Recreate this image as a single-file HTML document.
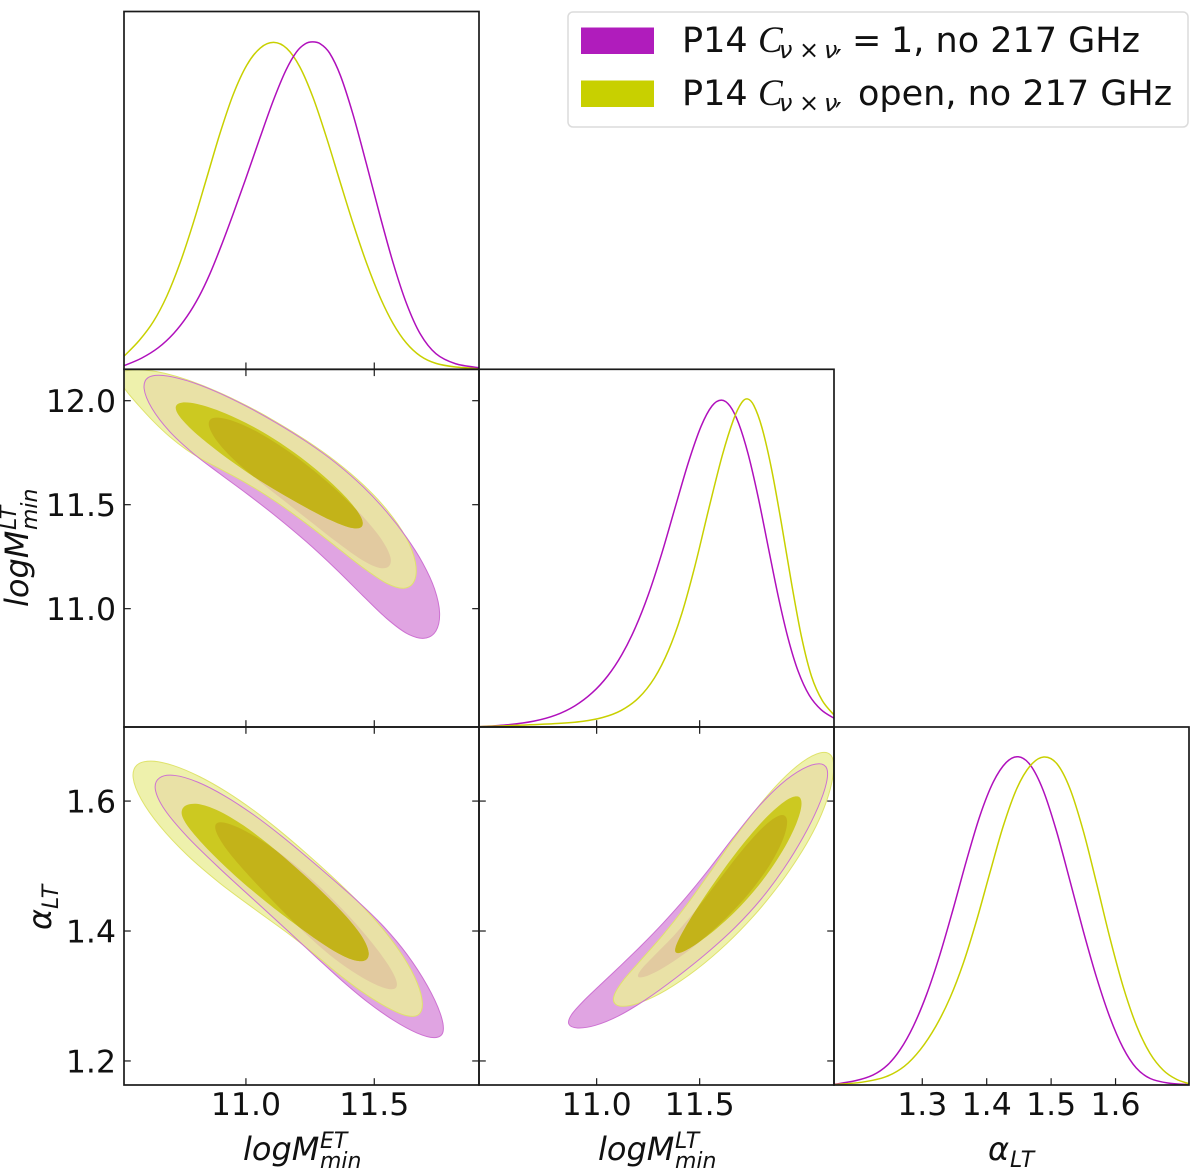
<!DOCTYPE html>
<html lang="en">
<head>
<meta charset="utf-8">
<title>Triangle plot</title>
<style>
html,body{margin:0;padding:0;background:#fff;}
svg{display:block;}
text{font-family:"DejaVu Sans","Liberation Sans",sans-serif;fill:#111;}
.it{font-style:italic;}
</style>
</head>
<body>
<svg id="chart" xmlns="http://www.w3.org/2000/svg" width="1200" height="1169" viewBox="0 0 1200 1169">
  <rect x="0" y="0" width="1200" height="1169" fill="#fff"/>
  <defs id="defs"></defs>
  <g id="marks"></g>
  <g id="frames"></g>
  <g id="ticklabels"></g>

  <g>
    <text class="it" x="243" y="1160" font-size="32">logM</text>
    <text class="it" x="320" y="1148" font-size="22">ET</text>
    <text class="it" x="320" y="1168" font-size="22">min</text>
  </g>
  <g>
    <text class="it" x="598" y="1160" font-size="32">logM</text>
    <text class="it" x="675" y="1148" font-size="22">LT</text>
    <text class="it" x="675" y="1168" font-size="22">min</text>
  </g>
  <g>
    <text class="it" x="988" y="1160" font-size="32">α</text>
    <text class="it" x="1010" y="1167" font-size="22">LT</text>
  </g>
  <g transform="translate(28 607) rotate(-90)">
    <text class="it" x="0" y="0" font-size="32">logM</text>
    <text class="it" x="77" y="-12" font-size="22">LT</text>
    <text class="it" x="77" y="9" font-size="22">min</text>
  </g>
  <g transform="translate(51 930) rotate(-90)">
    <text class="it" x="0" y="0" font-size="32">α</text>
    <text class="it" x="21" y="7" font-size="22">LT</text>
  </g>

  <g>
    <rect x="568" y="12" width="620" height="115" rx="5" ry="5" fill="#fff" stroke="#dcdcdc" stroke-width="1.5"/>
    <g>
      <rect x="581" y="27.5" width="73" height="26.5" fill="#b01cbc"/>
      <text x="682" y="52" font-size="35">P14</text>
      <text x="758" y="52" font-size="37" style="font-family:'Liberation Serif',serif;font-style:italic">C</text>
      <text class="it" x="779" y="58" font-size="24">ν</text>
      <text x="799" y="58" font-size="24">×</text>
      <text class="it" x="824" y="58" font-size="24">ν</text>
      <text x="835" y="71" font-size="30">′</text>
      <text x="852" y="52" font-size="35">=</text>
      <text x="891" y="52" font-size="35">1, no 217 GHz</text>
    </g>
    <g>
      <rect x="581" y="80.5" width="73" height="26.5" fill="#c8d000"/>
      <text x="682" y="105" font-size="35">P14</text>
      <text x="758" y="105" font-size="37" style="font-family:'Liberation Serif',serif;font-style:italic">C</text>
      <text class="it" x="779" y="111" font-size="24">ν</text>
      <text x="799" y="111" font-size="24">×</text>
      <text class="it" x="824" y="111" font-size="24">ν</text>
      <text x="835" y="124" font-size="30">′</text>
      <text x="858" y="105" font-size="35">open, no 217 GHz</text>
    </g>
  </g>
</svg>

<script>
// ---- axis limits and ticks ----
const etLimits = [10.525, 11.908];
const ltLimits = [10.431, 12.151];
const alphaLimits = [1.163, 1.714];
const densityLimits = [0, 1.097];
const etTicks = [11.0, 11.5];
const etTickLabels = ['11.0', '11.5'];
const ltTicks = [11.0, 11.5];
const ltTickLabels = ['11.0', '11.5'];
const ltYTicks = [11.0, 11.5, 12.0];
const ltYTickLabels = ['11.0', '11.5', '12.0'];
const alphaYTicks = [1.2, 1.4, 1.6];
const alphaYTickLabels = ['1.2', '1.4', '1.6'];
const alphaXTicks = [1.3, 1.4, 1.5, 1.6];
const alphaXTickLabels = ['1.3', '1.4', '1.5', '1.6'];

// ---- 1D marginals ----
const etPurpleX = [10.525,10.587,10.665,10.717,10.769,10.821,10.860,10.899,10.951,11.003,11.055,11.106,11.158,11.197,11.230,11.260,11.288,11.327,11.366,11.418,11.470,11.522,11.574,11.626,11.678,11.743,11.808,11.908];
const etPurpleD = [.011,.028,.069,.110,.161,.227,.294,.371,.478,.591,.708,.826,.923,.974,.995,1,.995,.969,.913,.780,.626,.473,.324,.202,.110,.043,.017,.005];
const etYellowX = [10.525,10.587,10.639,10.691,10.743,10.795,10.847,10.899,10.951,11.003,11.055,11.110,11.158,11.210,11.262,11.314,11.366,11.418,11.470,11.522,11.574,11.626,11.678,11.743,11.808,11.908];
const etYellowD = [.040,.089,.145,.222,.325,.447,.585,.724,.846,.933,.985,1,.985,.928,.836,.708,.575,.447,.324,.222,.140,.079,.043,.017,.007,.003];
const ltPurpleX = [10.429,10.571,10.701,10.798,10.895,10.976,11.057,11.121,11.186,11.251,11.316,11.380,11.445,11.510,11.558,11.607,11.647,11.688,11.736,11.785,11.833,11.882,11.930,11.979,12.028,12.092,12.152];
const ltPurpleD = [.001,.006,.018,.037,.065,.103,.160,.221,.303,.405,.528,.671,.814,.930,.983,1,.983,.931,.839,.707,.548,.395,.272,.170,.098,.047,.027];
const ltYellowX = [10.429,10.652,10.814,10.927,11.024,11.121,11.202,11.283,11.348,11.413,11.477,11.542,11.607,11.672,11.704,11.731,11.761,11.801,11.850,11.898,11.947,11.995,12.044,12.092,12.152];
const ltYellowD = [.001,.006,.011,.018,.029,.052,.088,.149,.240,.345,.487,.661,.845,.955,.985,1,.985,.930,.793,.620,.436,.272,.149,.078,.037];
const alphaPurpleX = [1.163,1.198,1.224,1.245,1.265,1.286,1.307,1.327,1.348,1.369,1.389,1.410,1.431,1.449,1.467,1.488,1.508,1.529,1.550,1.571,1.591,1.612,1.633,1.653,1.679,1.714];
const alphaPurpleD = [.002,.012,.031,.061,.107,.179,.276,.399,.537,.686,.829,.931,.988,1,.983,.911,.778,.624,.471,.328,.205,.113,.051,.020,.007,.001];
const alphaYellowX = [1.163,1.208,1.245,1.271,1.296,1.322,1.343,1.364,1.384,1.405,1.426,1.446,1.467,1.490,1.508,1.529,1.550,1.571,1.591,1.612,1.633,1.653,1.674,1.695,1.714];
const alphaYellowD = [.001,.007,.026,.056,.107,.184,.266,.374,.502,.645,.798,.911,.977,1,.988,.916,.778,.614,.450,.297,.179,.097,.046,.015,.004];

// ---- ET vs LT contours ----
const etLtP95X = [10.600,10.619,10.678,10.769,10.886,11.003,11.119,11.236,11.353,11.457,11.548,11.626,11.684,11.736,11.757,11.743,11.691,11.626,11.548,11.457,11.353,11.236,11.119,11.003,10.899,10.795,10.704,10.632];
const etLtP95Y = [12.067,12.111,12.119,12.099,12.043,11.971,11.891,11.803,11.699,11.587,11.466,11.338,11.226,11.098,10.978,10.889,10.853,10.881,10.954,11.058,11.194,11.322,11.442,11.554,11.651,11.747,11.843,11.963];
const etLtY95X = [10.496,10.516,10.568,10.626,10.678,10.769,10.886,11.003,11.119,11.236,11.353,11.457,11.548,11.626,11.662,11.658,11.613,11.548,11.457,11.353,11.236,11.119,11.003,10.899,10.834,10.769,10.704,10.639,10.587,10.529];
const etLtY95Y = [12.107,12.139,12.147,12.143,12.131,12.104,12.046,11.976,11.896,11.806,11.707,11.595,11.474,11.346,11.226,11.130,11.093,11.122,11.197,11.298,11.410,11.511,11.611,11.667,11.715,11.763,11.827,11.899,11.971,12.067];
const etLtP68X = [10.853,10.866,10.899,10.964,11.055,11.158,11.262,11.366,11.457,11.535,11.565,11.555,11.509,11.444,11.353,11.236,11.132,11.035,10.951,10.886];
const etLtP68Y = [11.883,11.907,11.915,11.899,11.843,11.763,11.667,11.554,11.442,11.322,11.250,11.202,11.194,11.242,11.322,11.434,11.538,11.631,11.715,11.803];
const etLtY68X = [10.730,10.749,10.808,10.899,11.003,11.106,11.210,11.314,11.405,11.455,11.447,11.405,11.327,11.223,11.119,11.029,10.951,10.860,10.782,10.736];
const etLtY68Y = [11.971,11.990,11.987,11.950,11.891,11.819,11.731,11.627,11.514,11.434,11.394,11.386,11.426,11.498,11.566,11.635,11.704,11.787,11.867,11.931];

// ---- ET vs alpha contours ----
const etAlphaP95X = [10.645,10.665,10.723,10.808,10.925,11.029,11.132,11.236,11.340,11.444,11.535,11.626,11.704,11.762,11.769,11.736,11.665,11.574,11.470,11.366,11.288,11.158,11.029,10.899,10.769,10.678];
const etAlphaP95Y = [1.617,1.636,1.640,1.630,1.607,1.578,1.549,1.514,1.478,1.443,1.407,1.366,1.319,1.268,1.245,1.236,1.243,1.263,1.291,1.327,1.355,1.402,1.450,1.496,1.545,1.589];
const etAlphaY95X = [10.557,10.574,10.632,10.717,10.821,10.925,11.029,11.132,11.236,11.340,11.444,11.535,11.613,11.671,11.687,11.671,11.626,11.548,11.444,11.340,11.288,11.158,11.029,10.899,10.769,10.665,10.594];
const etAlphaY95Y = [1.637,1.655,1.662,1.655,1.637,1.614,1.586,1.554,1.519,1.481,1.443,1.402,1.361,1.319,1.289,1.271,1.268,1.284,1.309,1.337,1.361,1.399,1.435,1.473,1.517,1.561,1.602];
const etAlphaP68X = [10.881,10.892,10.925,10.990,11.081,11.184,11.288,11.392,11.483,11.561,11.586,11.577,11.535,11.457,11.353,11.288,11.197,11.068,10.990,10.938,10.892];
const etAlphaP68Y = [1.559,1.566,1.566,1.555,1.535,1.504,1.468,1.427,1.386,1.345,1.322,1.312,1.312,1.327,1.355,1.377,1.408,1.463,1.494,1.519,1.545];
const etAlphaY68X = [10.753,10.775,10.821,10.899,10.990,11.094,11.197,11.301,11.392,11.457,11.479,11.464,11.425,11.353,11.288,11.197,11.081,10.964,10.860,10.788,10.756];
const etAlphaY68Y = [1.584,1.595,1.596,1.584,1.563,1.532,1.496,1.458,1.422,1.391,1.366,1.355,1.354,1.367,1.384,1.409,1.445,1.481,1.522,1.555,1.573];

// ---- LT vs alpha contours ----
const ltAlphaP95X = [10.858,10.879,10.935,11.016,11.113,11.210,11.324,11.437,11.550,11.663,11.777,11.890,12.003,12.084,12.117,12.113,12.076,12.003,11.906,11.793,11.680,11.534,11.388,11.227,11.113,11.000,10.903];
const ltAlphaP95Y = [1.258,1.271,1.291,1.317,1.345,1.376,1.412,1.453,1.496,1.543,1.589,1.627,1.650,1.657,1.650,1.627,1.591,1.545,1.494,1.448,1.407,1.366,1.330,1.291,1.271,1.255,1.249];
const ltAlphaY95X = [11.084,11.121,11.210,11.324,11.437,11.550,11.663,11.777,11.890,12.003,12.084,12.141,12.149,12.133,12.092,12.028,11.955,11.874,11.761,11.631,11.485,11.340,11.210,11.129,11.094];
const ltAlphaY95Y = [1.302,1.322,1.355,1.391,1.440,1.491,1.540,1.589,1.630,1.663,1.673,1.671,1.653,1.617,1.578,1.540,1.504,1.466,1.422,1.381,1.340,1.309,1.289,1.285,1.289];
const ltAlphaP68X = [11.199,11.210,11.291,11.388,11.485,11.599,11.712,11.825,11.898,11.922,11.906,11.850,11.736,11.607,11.485,11.405,11.307,11.235];
const ltAlphaP68Y = [1.331,1.340,1.366,1.396,1.432,1.481,1.527,1.568,1.578,1.571,1.543,1.504,1.455,1.414,1.380,1.361,1.340,1.329];
const ltAlphaY68X = [11.385,11.405,11.485,11.583,11.696,11.825,11.922,11.979,11.992,11.971,11.906,11.809,11.696,11.583,11.485,11.421,11.392];
const ltAlphaY68Y = [1.376,1.391,1.435,1.478,1.530,1.576,1.603,1.606,1.594,1.566,1.525,1.478,1.437,1.404,1.381,1.368,1.368];

// ---- layout ----
const colX = [124, 479, 834, 1189];
const rowY = [11.5, 369.3, 727, 1085];
const NS = 'http://www.w3.org/2000/svg';
const marksG = document.getElementById('marks');
const framesG = document.getElementById('frames');
const labelsG = document.getElementById('ticklabels');
const defsEl = document.getElementById('defs');

function linear(domain, range) {
  return v => range[0] + (v - domain[0]) / (domain[1] - domain[0]) * (range[1] - range[0]);
}
const xET = linear(etLimits, [colX[0], colX[1]]);
const xLT = linear([10.429, 12.152], [colX[1], colX[2]]);
const xAlpha = linear(alphaLimits, [colX[2], colX[3]]);
const yLT = linear(ltLimits, [rowY[2], rowY[1]]);
const yAlpha = linear(alphaLimits, [rowY[3], rowY[2]]);
const yD1 = linear(densityLimits, [rowY[1], rowY[0]]);
const yD2 = linear(densityLimits, [rowY[2], rowY[1]]);
const yD3 = linear(densityLimits, [rowY[3], rowY[2]]);

function pts(xs, ys, fx, fy) {
  return xs.map((v, i) => [fx(v), fy(ys[i])]);
}
// Removes hand-reading jitter from points without shrinking the shape
function relax(p, closed, f) {
  const n = p.length;
  return p.map((q, i) => {
    if (!closed && (i === 0 || i === n - 1)) return q;
    const a = p[(i - 1 + n) % n], b = p[(i + 1) % n];
    return [q[0] + f * ((a[0] + b[0]) / 2 - q[0]), q[1] + f * ((a[1] + b[1]) / 2 - q[1])];
  });
}
function smooth(p, closed) {
  let out = p;
  for (let k = 0; k < 4; k++) {
    out = relax(out, closed, 0.5);
    out = relax(out, closed, -0.505);
  }
  return out;
}
function closedSpline(raw) {
  const p = smooth(raw, true);
  const n = p.length;
  let d = 'M' + p[0][0].toFixed(2) + ' ' + p[0][1].toFixed(2);
  for (let i = 0; i < n; i++) {
    const a = p[(i - 1 + n) % n], b = p[i], c = p[(i + 1) % n], e = p[(i + 2) % n];
    d += 'C' + (b[0] + (c[0] - a[0]) / 6).toFixed(2) + ' ' + (b[1] + (c[1] - a[1]) / 6).toFixed(2) + ' ' +
      (c[0] - (e[0] - b[0]) / 6).toFixed(2) + ' ' + (c[1] - (e[1] - b[1]) / 6).toFixed(2) + ' ' +
      c[0].toFixed(2) + ' ' + c[1].toFixed(2);
  }
  return d + 'Z';
}
function openSpline(raw) {
  const p = smooth(raw, false);
  const n = p.length;
  let d = 'M' + p[0][0].toFixed(2) + ' ' + p[0][1].toFixed(2);
  for (let i = 0; i < n - 1; i++) {
    const a = p[Math.max(i - 1, 0)], b = p[i], c = p[i + 1], e = p[Math.min(i + 2, n - 1)];
    d += 'C' + (b[0] + (c[0] - a[0]) / 6).toFixed(2) + ' ' + (b[1] + (c[1] - a[1]) / 6).toFixed(2) + ' ' +
      (c[0] - (e[0] - b[0]) / 6).toFixed(2) + ' ' + (c[1] - (e[1] - b[1]) / 6).toFixed(2) + ' ' +
      c[0].toFixed(2) + ' ' + c[1].toFixed(2);
  }
  return d;
}
function addClip(id, build) {
  const cp = document.createElementNS(NS, 'clipPath');
  cp.setAttribute('id', id);
  build(cp);
  defsEl.appendChild(cp);
}
function panelClip(id, c, r) {
  addClip(id, cp => {
    const rc = document.createElementNS(NS, 'rect');
    rc.setAttribute('x', colX[c]);
    rc.setAttribute('y', rowY[r]);
    rc.setAttribute('width', colX[c + 1] - colX[c]);
    rc.setAttribute('height', rowY[r + 1] - rowY[r]);
    cp.appendChild(rc);
  });
}
function shape(parent, d, name, fill, stroke, sw, clip) {
  const el = document.createElementNS(NS, 'path');
  
  
  el.setAttribute('d', d);
  el.setAttribute('fill', fill);
  if (stroke) {
    el.setAttribute('stroke', stroke);
    el.setAttribute('stroke-width', sw);
  }
  if (clip) el.setAttribute('clip-path', 'url(#' + clip + ')');
  parent.appendChild(el);
  return el;
}
function contourPanel(key, c, r, fx, fy, p95x, p95y, y95x, y95y, p68x, p68y, y68x, y68y) {
  const dP95 = closedSpline(pts(p95x, p95y, fx, fy));
  const dY95 = closedSpline(pts(y95x, y95y, fx, fy));
  const dP68 = closedSpline(pts(p68x, p68y, fx, fy));
  const dY68 = closedSpline(pts(y68x, y68y, fx, fy));
  const frameId = 'clip-' + key;
  panelClip(frameId, c, r);
  addClip('clip-y95-' + key, cp => {
    const pe = document.createElementNS(NS, 'path');
    pe.setAttribute('d', dY95);
    cp.appendChild(pe);
  });
  addClip('clip-y68-' + key, cp => {
    const pe = document.createElementNS(NS, 'path');
    pe.setAttribute('d', dY68);
    cp.appendChild(pe);
  });
  const g = document.createElementNS(NS, 'g');
  
  
  g.setAttribute('clip-path', 'url(#' + frameId + ')');
  marksG.appendChild(g);
  shape(g, dP95, 'purple-95-contour-' + key, '#e0a4e2', null);
  shape(g, dY95, 'yellow-95-contour-' + key, '#eef1ac', null);
  shape(g, dP95, 'purple-yellow-95-overlap-' + key, '#e9e1a6', null, 0, 'clip-y95-' + key);
  shape(g, dP68, 'purple-68-contour-' + key, '#e2caa0', null, 0, 'clip-y95-' + key);
  shape(g, dY68, 'yellow-68-contour-' + key, '#ccc921', null);
  shape(g, dP68, 'purple-yellow-68-overlap-' + key, '#c3b319', null, 0, 'clip-y68-' + key);
  shape(g, dY95, 'yellow-95-outline-' + key, 'none', '#dfe36c', 1);
  shape(g, dP95, 'purple-95-outline-' + key, 'none', '#cd72d2', 1);
}
function curve(c, r, xs, ds, fx, fy, color, name) {
  const id = 'clip-d-' + name;
  panelClip(id, c, r);
  shape(marksG, openSpline(pts(xs, ds, fx, fy)), name, 'none', color, 1.5, id);
}
function frame(c, r) {
  const el = document.createElementNS(NS, 'rect');
  
  
  el.setAttribute('x', colX[c]);
  el.setAttribute('y', rowY[r]);
  el.setAttribute('width', colX[c + 1] - colX[c]);
  el.setAttribute('height', rowY[r + 1] - rowY[r]);
  el.setAttribute('fill', 'none');
  el.setAttribute('stroke', '#1a1a1a');
  el.setAttribute('stroke-width', 1.7);
  framesG.appendChild(el);
}
function tick(x1, y1, x2, y2) {
  const el = document.createElementNS(NS, 'line');
  
  
  el.setAttribute('x1', x1.toFixed(2));
  el.setAttribute('y1', y1.toFixed(2));
  el.setAttribute('x2', x2.toFixed(2));
  el.setAttribute('y2', y2.toFixed(2));
  el.setAttribute('stroke', '#1a1a1a');
  el.setAttribute('stroke-width', 1.2);
  framesG.appendChild(el);
}
const TL = 6.8;
function xTicks(r, ticks, fx, bothSides) {
  ticks.forEach(v => {
    tick(fx(v), rowY[r + 1], fx(v), rowY[r + 1] - TL);
    if (bothSides) tick(fx(v), rowY[r], fx(v), rowY[r] + TL);
  });
}
function yTicks(c, ticks, fy) {
  ticks.forEach(v => {
    tick(colX[c], fy(v), colX[c] + TL, fy(v));
    tick(colX[c + 1], fy(v), colX[c + 1] - TL, fy(v));
  });
}
function tickLabel(x, y, str, anchor, name) {
  const el = document.createElementNS(NS, 'text');
  
  
  el.setAttribute('x', x.toFixed(2));
  el.setAttribute('y', y.toFixed(2));
  el.setAttribute('font-size', 31.5);
  el.setAttribute('text-anchor', anchor);
  el.textContent = str;
  labelsG.appendChild(el);
}

// ---- draw ----
contourPanel('et-lt', 0, 1, xET, yLT, etLtP95X, etLtP95Y, etLtY95X, etLtY95Y, etLtP68X, etLtP68Y, etLtY68X, etLtY68Y);
contourPanel('et-alpha', 0, 2, xET, yAlpha, etAlphaP95X, etAlphaP95Y, etAlphaY95X, etAlphaY95Y, etAlphaP68X, etAlphaP68Y, etAlphaY68X, etAlphaY68Y);
contourPanel('lt-alpha', 1, 2, xLT, yAlpha, ltAlphaP95X, ltAlphaP95Y, ltAlphaY95X, ltAlphaY95Y, ltAlphaP68X, ltAlphaP68Y, ltAlphaY68X, ltAlphaY68Y);

curve(0, 0, etYellowX, etYellowD, xET, yD1, '#c8d000', 'marginal-et-yellow');
curve(0, 0, etPurpleX, etPurpleD, xET, yD1, '#b010bc', 'marginal-et-purple');
curve(1, 1, ltPurpleX, ltPurpleD, xLT, yD2, '#b010bc', 'marginal-lt-purple');
curve(1, 1, ltYellowX, ltYellowD, xLT, yD2, '#c8d000', 'marginal-lt-yellow');
curve(2, 2, alphaPurpleX, alphaPurpleD, xAlpha, yD3, '#b010bc', 'marginal-alpha-purple');
curve(2, 2, alphaYellowX, alphaYellowD, xAlpha, yD3, '#c8d000', 'marginal-alpha-yellow');

frame(0, 0); frame(0, 1); frame(1, 1); frame(0, 2); frame(1, 2); frame(2, 2);

xTicks(0, etTicks, xET, false);
xTicks(1, etTicks, xET, true);
xTicks(2, etTicks, xET, true);
xTicks(1, ltTicks, xLT, false);
xTicks(2, ltTicks, xLT, true);
xTicks(2, alphaXTicks, xAlpha, false);
yTicks(0, ltYTicks, yLT);
yTicks(0, alphaYTicks, yAlpha);
yTicks(1, alphaYTicks, yAlpha);

etTicks.forEach((v, i) => tickLabel(xET(v), 1115, etTickLabels[i], 'middle', 'x-tick-label-et'));
ltTicks.forEach((v, i) => tickLabel(xLT(v), 1115, ltTickLabels[i], 'middle', 'x-tick-label-lt'));
alphaXTicks.forEach((v, i) => tickLabel(xAlpha(v), 1115, alphaXTickLabels[i], 'middle', 'x-tick-label-alpha'));
ltYTicks.forEach((v, i) => tickLabel(116, yLT(v) + 11.5, ltYTickLabels[i], 'end', 'y-tick-label-lt'));
alphaYTicks.forEach((v, i) => tickLabel(116, yAlpha(v) + 11.5, alphaYTickLabels[i], 'end', 'y-tick-label-alpha'));
</script>
</body>
</html>
